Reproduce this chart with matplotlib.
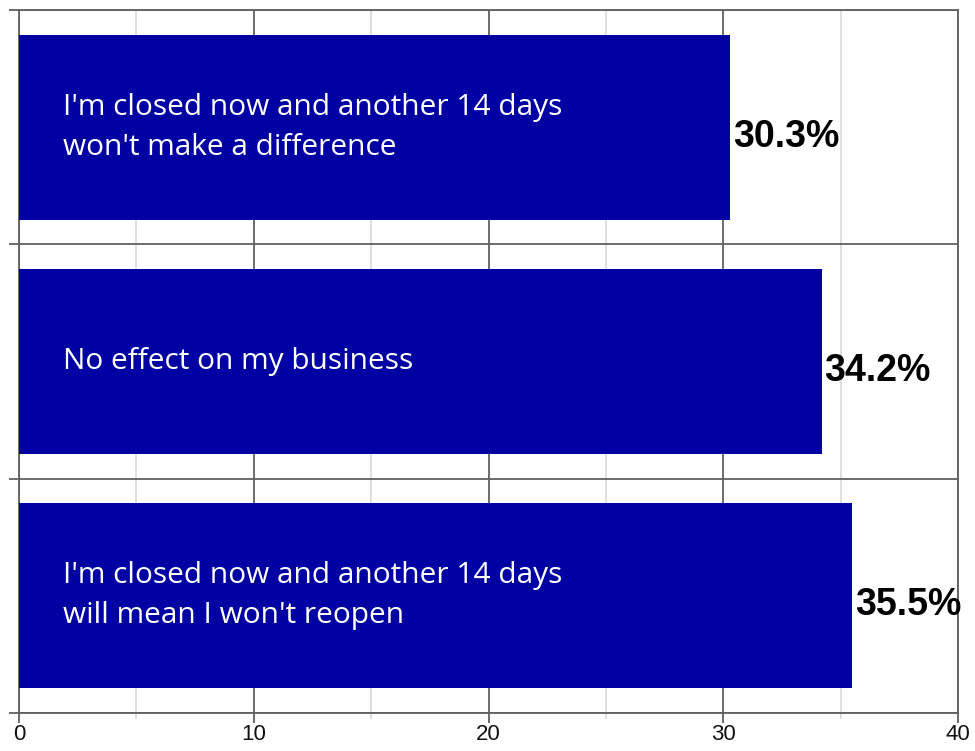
import numpy as np
import matplotlib
matplotlib.use('Agg')
import matplotlib.pyplot as plt
from matplotlib.ticker import MultipleLocator

# answers, top to bottom
answers = ["I'm closed now and another 14 days\nwon't make a difference",
           "No effect on my business",
           "I'm closed now and another 14 days\nwill mean I won't reopen"]
shares = [30.3, 34.2, 35.5]
xticks = [0, 10, 20, 30, 40]

bar_col = '#0000a3'
dark = '#606060'
light = '#dcdcdc'

fig = plt.figure(figsize=(9.75, 7.51), dpi=100)
ax = fig.add_axes([19/975, 38/751, 939/975, 703/751])

pos = np.arange(len(answers))
ax.barh(pos, shares, height=0.79, color=bar_col, zorder=3)

ax.set_xlim(0, 40)
ax.set_ylim(len(answers) - 0.5, -0.5)

ax.set_xticks(xticks)
ax.xaxis.set_minor_locator(MultipleLocator(5))
ax.set_yticks(np.arange(len(answers) + 1) - 0.5)
ax.set_yticklabels([])

ax.grid(axis='x', which='major', color=dark, lw=1.3, zorder=1)
ax.grid(axis='x', which='minor', color=light, lw=1.3, zorder=1)
ax.grid(axis='y', which='major', color=dark, lw=1.3, zorder=1)

ax.tick_params(axis='x', which='major', length=7, width=1.3, color=dark,
               labelsize=16, pad=1, labelcolor='#111111')
ax.tick_params(axis='x', which='minor', length=4, width=1.3, color=light)
ax.tick_params(axis='y', which='major', length=7, width=1.3, color=dark)
for lbl in ax.get_xticklabels():
    lbl.set_family('Liberation Sans')

for s in ax.spines.values():
    s.set_color(dark)
    s.set_linewidth(1.3)

for p, txt, v in zip(pos, answers, shares):
    ax.text(1.87, p, txt, color='white', fontsize=21.5, family='Open Sans',
            va='center', ha='left', linespacing=1.5, zorder=4)
    ax.text(v + 0.1, p + 0.04, '%.1f%%' % v, color='black', fontsize=27,
            family='Liberation Sans', weight='bold', va='center', ha='left', zorder=4)

fig.savefig('out.png', dpi=100)
